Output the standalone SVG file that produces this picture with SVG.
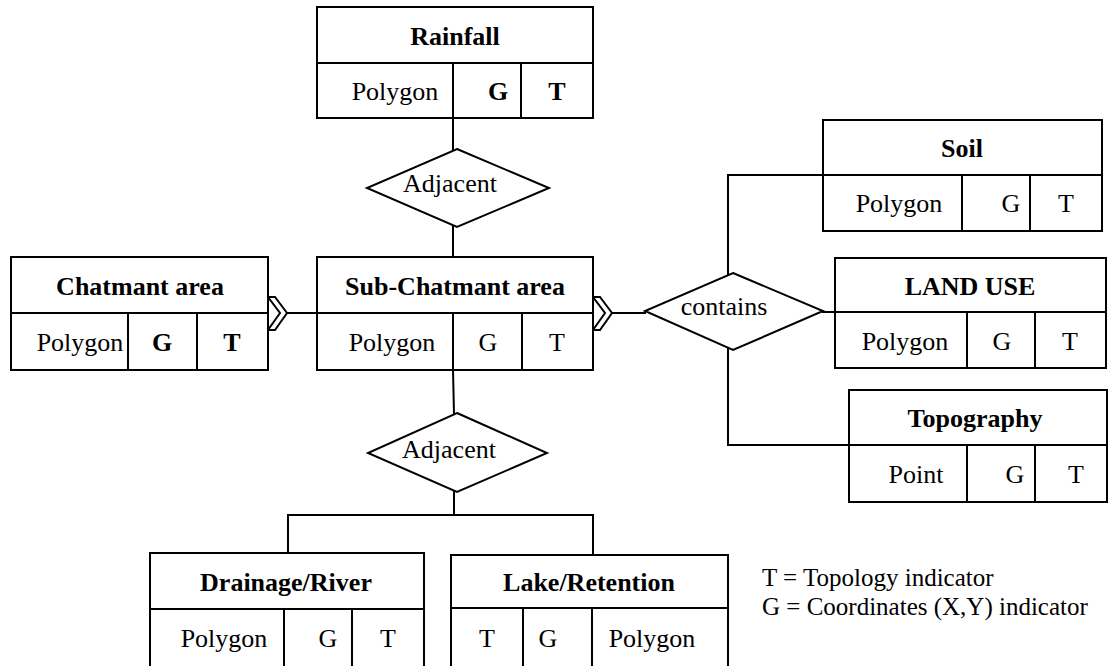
<svg xmlns="http://www.w3.org/2000/svg" width="1118" height="666" viewBox="0 0 1118 666" font-family="'Liberation Serif', 'Times New Roman', serif">
<style>
.box{fill:#fff;stroke:#000;stroke-width:2}
.ln{fill:none;stroke:#000;stroke-width:2}
.dm{fill:#fff;stroke:#000;stroke-width:2}
.t{font-family:'Liberation Serif','Times New Roman',serif;font-size:26px;fill:#000;text-anchor:middle}
.b{font-weight:bold}
.l{text-anchor:start;font-size:25px}
</style>
<rect width="1118" height="666" fill="#fff"/>
<g id="connectors">
<path class="ln" d="M453,118 V150 M453,226 V257"/>
<path class="ln" d="M287,313 H317"/>
<path class="ln" d="M612,313 H646"/>
<path class="ln" d="M728,275 V175 H823"/>
<path class="ln" d="M822,312 H835"/>
<path class="ln" d="M728,348 V445 H849"/>
<path class="ln" d="M453,370 L454,414 M454,491 V515 M288,553 V515 H593 V555"/>
<polygon class="box" points="268,297 275,297 287,313 275,330 268,330 280,313"/>
<polygon class="box" points="593,297 600,297 612,313 600,330 593,330 605,313"/>
</g>
<g id="rainfall">
<rect class="box" x="317" y="7" width="276" height="111"/>
<path class="ln" d="M317,63 H593 M453,63 V118 M521,63 V118"/>
<text class="t b" x="455" y="45">Rainfall</text>
<text class="t" x="395" y="100">Polygon</text>
<text class="t b" x="498" y="100">G</text>
<text class="t b" x="557" y="100">T</text>
</g>
<g id="adjacent-top">
<polygon class="dm" points="457,149 549,188 457,227 367,188"/>
<text class="t" x="450" y="192">Adjacent</text>
</g>
<g id="chatmant">
<rect class="box" x="11" y="257" width="257" height="113"/>
<path class="ln" d="M11,313 H268 M128,313 V370 M197,313 V370"/>
<text class="t b" x="140" y="295">Chatmant area</text>
<text class="t" x="80" y="351">Polygon</text>
<text class="t b" x="162" y="351">G</text>
<text class="t b" x="232" y="351">T</text>
</g>
<g id="sub-chatmant">
<rect class="box" x="317" y="257" width="276" height="113"/>
<path class="ln" d="M317,313 H593 M453,313 V370 M522,313 V370"/>
<text class="t b" x="455" y="295">Sub-Chatmant area</text>
<text class="t" x="392" y="351">Polygon</text>
<text class="t" x="488" y="351">G</text>
<text class="t" x="557" y="351">T</text>
</g>
<g id="contains">
<polygon class="dm" points="733,273 823,311 733,350 645,311"/>
<text class="t" x="724" y="315">contains</text>
</g>
<g id="soil">
<rect class="box" x="823" y="120" width="279" height="111"/>
<path class="ln" d="M823,175 H1102 M962,175 V231 M1030,175 V231"/>
<text class="t b" x="962" y="157">Soil</text>
<text class="t" x="899" y="212">Polygon</text>
<text class="t" x="1011" y="212">G</text>
<text class="t" x="1066" y="212">T</text>
</g>
<g id="land-use">
<rect class="box" x="835" y="258" width="271" height="110"/>
<path class="ln" d="M835,312 H1106 M967,312 V368 M1035,312 V368"/>
<text class="t b" x="970" y="295">LAND USE</text>
<text class="t" x="905" y="350">Polygon</text>
<text class="t" x="1002" y="350">G</text>
<text class="t" x="1070" y="350">T</text>
</g>
<g id="topography">
<rect class="box" x="849" y="390" width="258" height="112"/>
<path class="ln" d="M849,445 H1107 M967,445 V502 M1035,445 V502"/>
<text class="t b" x="975" y="427">Topography</text>
<text class="t" x="916" y="483">Point</text>
<text class="t" x="1015" y="483">G</text>
<text class="t" x="1076" y="483">T</text>
</g>
<g id="adjacent-bottom">
<polygon class="dm" points="457,413 547,453 457,492 368,453"/>
<text class="t" x="449" y="458">Adjacent</text>
</g>
<g id="drainage">
<rect class="box" x="150" y="553" width="274" height="114"/>
<path class="ln" d="M150,609 H424 M284,609 V667 M352,609 V667"/>
<text class="t b" x="286" y="591">Drainage/River</text>
<text class="t" x="224" y="647">Polygon</text>
<text class="t" x="328" y="647">G</text>
<text class="t" x="388" y="647">T</text>
</g>
<g id="lake">
<rect class="box" x="451" y="555" width="277" height="112"/>
<path class="ln" d="M451,608 H728 M523,608 V667 M592,608 V667"/>
<text class="t b" x="589" y="591">Lake/Retention</text>
<text class="t" x="487" y="647">T</text>
<text class="t" x="548" y="647">G</text>
<text class="t" x="652" y="647">Polygon</text>
</g>
<g id="legend">
<text class="t l" x="762" y="586">T = Topology indicator</text>
<text class="t l" x="762" y="615">G = Coordinates (X,Y) indicator</text>
</g>
</svg>
